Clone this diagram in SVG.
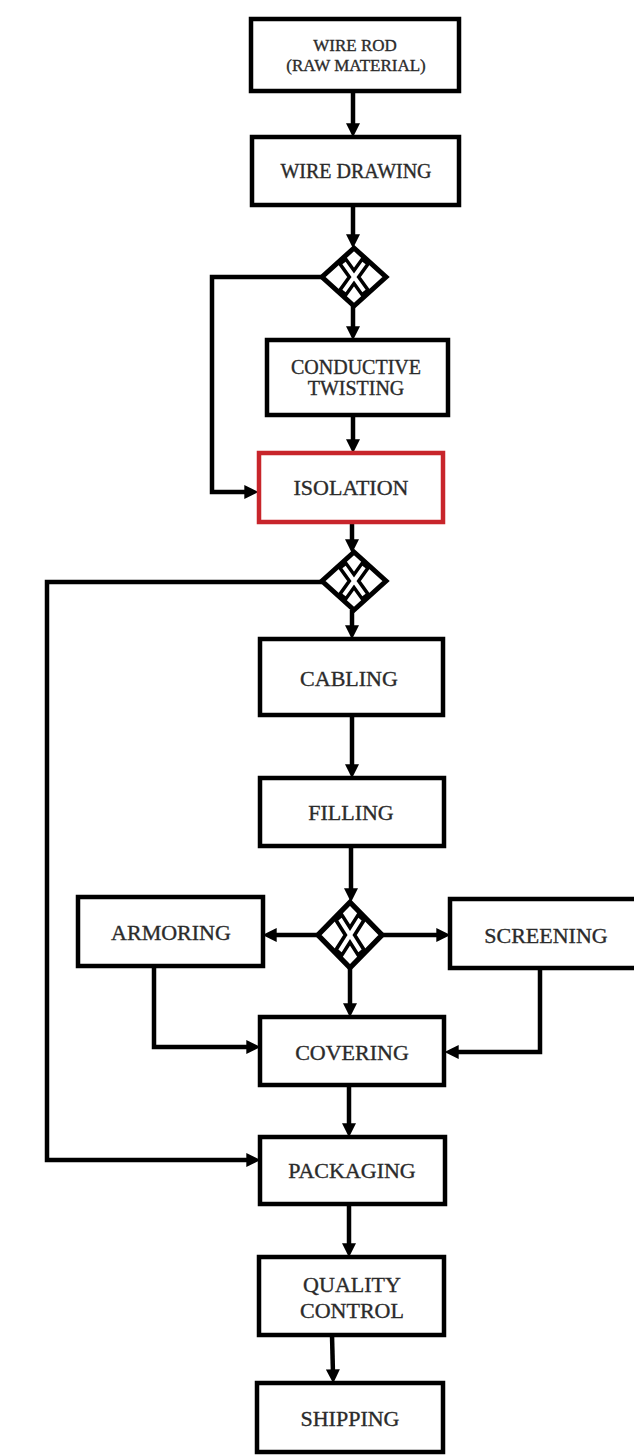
<svg xmlns="http://www.w3.org/2000/svg" width="634" height="1455" viewBox="0 0 634 1455">
<style>
.box{fill:#fff;stroke:#000;stroke-width:4.5}
.red{fill:#fff;stroke:#c8252b;stroke-width:4.5}
.t{font-family:"Liberation Serif","Times New Roman",serif;font-size:22px;fill:#2b2b2b;stroke:#2b2b2b;stroke-width:0.35;text-anchor:middle}
.s{font-size:20px}
.xs{font-size:17px}
.c{fill:none;stroke:#000;stroke-width:4.5;stroke-linejoin:miter}
.gw{fill:#fff;stroke:#000;stroke-width:5}
.xo{stroke:#000;stroke-width:11}
.xi{stroke:#fff;stroke-width:4}
</style>
<defs>
<marker id="ah" viewBox="0 0 12 12" refX="4" refY="6" markerWidth="14" markerHeight="14" markerUnits="userSpaceOnUse" orient="auto">
<path d="M0,0 L12,6 L0,12 z" fill="#000"/>
</marker>
<g id="xmark">
<path class="gw" d="M0,-29 L32,0 L0,29 L-32,0 z"/>
<path class="xo" d="M-13,-18 L13,18 M13,-18 L-13,18"/>
<path class="xi" d="M-10,-14 L10,14 M10,-14 L-10,14"/>
</g>
</defs>
<g id="connectors">
<path class="c" marker-end="url(#ah)" d="M353,91 V128"/>
<path class="c" marker-end="url(#ah)" d="M353,205 V239"/>
<path class="c" marker-end="url(#ah)" d="M353,305 V331"/>
<path class="c" marker-end="url(#ah)" d="M353,415 V444"/>
<path class="c" marker-end="url(#ah)" d="M322,277 H212 V492 H249"/>
<path class="c" marker-end="url(#ah)" d="M352,522 V544"/>
<path class="c" marker-end="url(#ah)" d="M352,610 V630"/>
<path class="c" marker-end="url(#ah)" d="M322,582 H47 V1160 H251"/>
<path class="c" marker-end="url(#ah)" d="M352,715 V769"/>
<path class="c" marker-end="url(#ah)" d="M351,846 V893"/>
<path class="c" marker-end="url(#ah)" d="M317,935 H272"/>
<path class="c" marker-end="url(#ah)" d="M382,935 H441"/>
<path class="c" marker-end="url(#ah)" d="M350,967 V1008"/>
<path class="c" marker-end="url(#ah)" d="M154,966 V1047 H251"/>
<path class="c" marker-end="url(#ah)" d="M540,970 V1052 H454"/>
<path class="c" marker-end="url(#ah)" d="M349,1085 V1128"/>
<path class="c" marker-end="url(#ah)" d="M349,1204 V1248"/>
<path class="c" marker-end="url(#ah)" d="M332,1335 L333,1374"/>
</g>
<g id="wire-rod"><rect class="box" x="251" y="19" width="208" height="72"/><text class="t xs" x="355" y="51">WIRE ROD</text><text class="t xs" x="356" y="71">(RAW MATERIAL)</text></g>
<g id="wire-drawing"><rect class="box" x="252" y="137" width="207" height="68"/><text class="t s" x="356" y="178">WIRE DRAWING</text></g>
<g id="gateway-1"><use href="#xmark" x="354" y="277"/></g>
<g id="conductive-twisting"><rect class="box" x="267" y="340" width="181" height="75"/><text class="t s" x="356" y="374">CONDUCTIVE</text><text class="t s" x="356" y="395">TWISTING</text></g>
<g id="isolation"><rect class="red" x="259" y="453" width="184" height="69"/><text class="t" x="351" y="495">ISOLATION</text></g>
<g id="gateway-2"><use href="#xmark" x="354" y="581"/></g>
<g id="cabling"><rect class="box" x="260" y="639" width="183" height="76"/><text class="t" x="349" y="686">CABLING</text></g>
<g id="filling"><rect class="box" x="260" y="778" width="184" height="68"/><text class="t" x="351" y="820">FILLING</text></g>
<g id="gateway-3"><use href="#xmark" x="350" y="935" transform="translate(350 935) scale(1 1.13) translate(-350 -935)"/></g>
<g id="armoring"><rect class="box" x="78" y="897" width="185" height="69"/><text class="t" x="171" y="940">ARMORING</text></g>
<g id="screening"><rect class="box" x="450" y="899" width="190" height="69"/><text class="t" x="546" y="943">SCREENING</text></g>
<g id="covering"><rect class="box" x="260" y="1017" width="184" height="68"/><text class="t" x="352" y="1060">COVERING</text></g>
<g id="packaging"><rect class="box" x="260" y="1137" width="185" height="67"/><text class="t" x="352" y="1178">PACKAGING</text></g>
<g id="quality-control"><rect class="box" x="259" y="1257" width="185" height="78"/><text class="t" x="352" y="1292">QUALITY</text><text class="t" x="352" y="1318">CONTROL</text></g>
<g id="shipping"><rect class="box" x="257" y="1383" width="186" height="69"/><text class="t" x="350" y="1426">SHIPPING</text></g>
</svg>
